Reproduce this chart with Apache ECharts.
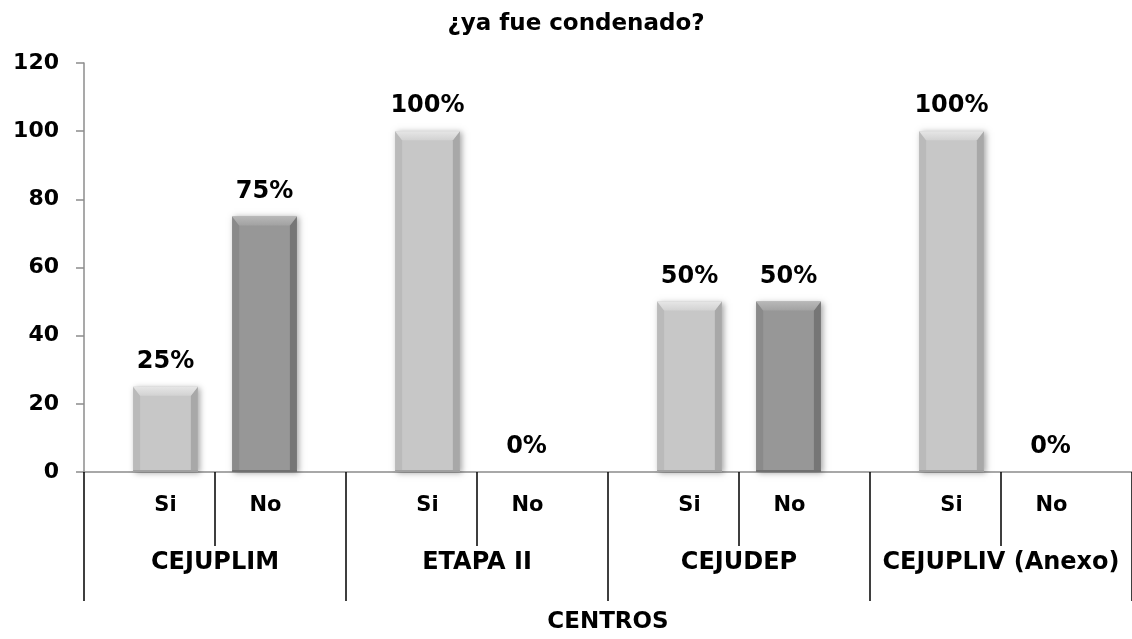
<!DOCTYPE html>
<html>
<head>
<meta charset="utf-8">
<script src="https://cdn.jsdelivr.net/npm/echarts@6/dist/echarts.min.js"></script>
<style>
html,body{margin:0;padding:0;background:#fff;}
#chart{width:1132px;height:639px;}
</style>
</head>
<body>
<div id="chart"></div>
<script>
const titleText = '¿ya fue condenado?';
const centers = ['CEJUPLIM', 'ETAPA II', 'CEJUDEP', 'CEJUPLIV (Anexo)'];
const answers = ['Si', 'No'];
const siValues = [25, 100, 50, 100];
const noValues = [75, 0, 50, 0];
const yTicks = [0, 20, 40, 60, 80, 100, 120];
const axisName = 'CENTROS';

const FONT = '"DejaVu Sans", Verdana, sans-serif';
const chart = echarts.init(document.getElementById('chart'));

const subLabels = [];
centers.forEach(() => answers.forEach(a => subLabels.push(a)));

function makeRender(sign, pal) {
  return function (params, api) {
    const xi = api.value(0);
    const v = api.value(1);
    const base = api.coord([xi, 0]);
    const top = api.coord([xi, v]);
    const band = api.size([1, 0])[0];
    const w = band * 0.247;
    const cx = base[0] + sign * band * 0.189;
    const x0 = cx - w / 2, x1 = cx + w / 2;
    const y0 = top[1], y1 = base[1];
    const h = y1 - y0;
    const children = [];
    if (h > 0) {
      const b = Math.min(9, h / 2);
      const s = Math.min(7, w / 2);
      children.push({type: 'rect', shape: {x: x0, y: y0, width: w, height: h},
        style: {fill: pal.face, shadowBlur: 6, shadowOffsetX: 2, shadowOffsetY: 1, shadowColor: 'rgba(0,0,0,0.35)'}});
      children.push({type: 'polygon', shape: {points: [[x0, y0], [x0 + s, y0 + b], [x0 + s, y1], [x0, y1]]},
        style: {fill: pal.left}});
      children.push({type: 'polygon', shape: {points: [[x1, y0], [x1 - s, y0 + b], [x1 - s, y1], [x1, y1]]},
        style: {fill: pal.right}});
      children.push({type: 'polygon', shape: {points: [[x0, y0], [x1, y0], [x1 - s, y0 + b], [x0 + s, y0 + b]]},
        style: {fill: new echarts.graphic.LinearGradient(0, 0, 0, 1, [{offset: 0, color: pal.top1}, {offset: 1, color: pal.top2}])}});
      children.push({type: 'rect', shape: {x: x0, y: y1 - 2, width: w, height: 2}, style: {fill: pal.bottom}});
    }
    children.push({type: 'text', style: {text: v + '%', x: cx, y: y0 - 13, align: 'center', verticalAlign: 'bottom',
      fill: '#000', font: 'bold 24px ' + FONT}});
    return {type: 'group', children: children};
  };
}

const siPal = {face: '#c7c7c7', left: '#bababa', right: '#a8a8a8', top1: '#e6e6e6', top2: '#d2d2d2', bottom: '#a0a0a0'};
const noPal = {face: '#979797', left: '#8a8a8a', right: '#767676', top1: '#b8b8b8', top2: '#a2a2a2', bottom: '#707070'};

chart.setOption({
  animation: false,
  backgroundColor: '#fff',
  title: {
    text: titleText, left: 571, top: 8, textAlign: 'center',
    textStyle: {fontFamily: FONT, fontWeight: 'bold', fontSize: 23, color: '#000'}
  },
  grid: {left: 84, top: 63, width: 1051, height: 414, containLabel: false},
  xAxis: [{
    type: 'category', data: centers, position: 'bottom',
    name: axisName, nameLocation: 'middle', nameGap: 139,
    nameTextStyle: {fontFamily: FONT, fontWeight: 'bold', fontSize: 23, color: '#000'},
    axisLine: {show: true, lineStyle: {color: '#8c8c8c', width: 1.5}},
    axisTick: {show: true, length: 129, lineStyle: {color: '#000', width: 1.5}},
    axisLabel: {margin: 79, fontFamily: FONT, fontWeight: 'bold', fontSize: 24, color: '#000', interval: 0},
    splitLine: {show: false}
  }, {
    type: 'category', data: subLabels, position: 'bottom',
    axisLine: {show: false},
    axisTick: {show: true, length: 74, interval: 0, lineStyle: {color: '#000', width: 1.5}},
    axisLabel: {
      margin: 23, interval: 0,
      formatter: (v, i) => (i % 2 === 0 ? '{a|' + v + '}' : '{b|' + v + '}'),
      rich: {
        a: {padding: [0, 0, 0, 32], fontFamily: FONT, fontWeight: 'bold', fontSize: 21, color: '#000'},
        b: {padding: [0, 30, 0, 0], fontFamily: FONT, fontWeight: 'bold', fontSize: 21, color: '#000'}
      }
    },
    splitLine: {show: false}
  }],
  yAxis: {
    type: 'value', min: yTicks[0], max: yTicks[yTicks.length - 1], interval: 20,
    axisLine: {show: true, lineStyle: {color: '#8c8c8c', width: 1.5}},
    axisTick: {show: true, length: 8, lineStyle: {color: '#8c8c8c', width: 1.5}},
    axisLabel: {margin: 25, fontFamily: FONT, fontWeight: 'bold', fontSize: 22, color: '#000'},
    splitLine: {show: false}
  },
  series: [{
    name: answers[0], type: 'custom', xAxisIndex: 0,
    data: siValues.map((v, i) => [i, v]),
    encode: {x: 0, y: 1},
    renderItem: makeRender(-1, siPal), z: 3
  }, {
    name: answers[1], type: 'custom', xAxisIndex: 0,
    data: noValues.map((v, i) => [i, v]),
    encode: {x: 0, y: 1},
    renderItem: makeRender(1, noPal), z: 3
  }]
});
</script>
</body>
</html>
